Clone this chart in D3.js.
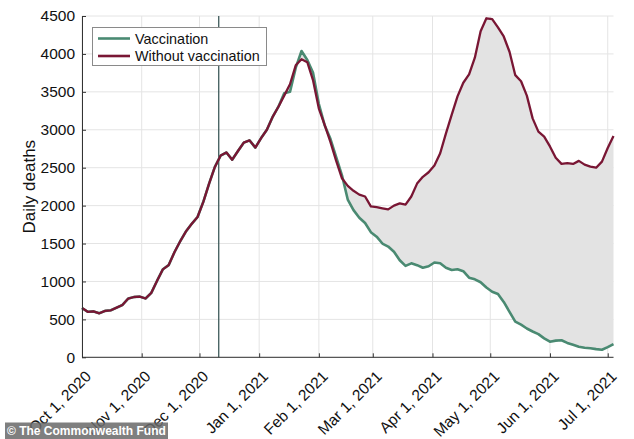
<!DOCTYPE html>
<html>
<head>
<meta charset="utf-8">
<script src="https://cdn.jsdelivr.net/npm/d3@7"></script>
<style>
  html, body { margin: 0; padding: 0; background: #fff; }
  svg { display: block; font-family: "Liberation Sans", Arial, Helvetica, sans-serif; }
</style>
</head>
<body>
<svg id="chart" width="634" height="439"></svg>
<script>
// ---- Data ----
const dates = [
  "2020-10-01","2020-10-04","2020-10-07","2020-10-10","2020-10-13","2020-10-16","2020-10-19","2020-10-22","2020-10-25","2020-10-28",
  "2020-10-31","2020-11-03","2020-11-06","2020-11-09","2020-11-12","2020-11-15","2020-11-18","2020-11-21","2020-11-24","2020-11-27",
  "2020-11-30","2020-12-03","2020-12-06","2020-12-09","2020-12-12","2020-12-15","2020-12-18","2020-12-21","2020-12-24","2020-12-27",
  "2020-12-30","2021-01-02","2021-01-05","2021-01-08","2021-01-11","2021-01-14","2021-01-17","2021-01-20","2021-01-23","2021-01-26",
  "2021-01-29","2021-02-01","2021-02-04","2021-02-07","2021-02-10","2021-02-13","2021-02-16","2021-02-19","2021-02-22","2021-02-25",
  "2021-02-28","2021-03-03","2021-03-06","2021-03-09","2021-03-12","2021-03-15","2021-03-18","2021-03-21","2021-03-24","2021-03-27",
  "2021-03-30","2021-04-02","2021-04-05","2021-04-08","2021-04-11","2021-04-14","2021-04-17","2021-04-20","2021-04-23","2021-04-26",
  "2021-04-29","2021-05-02","2021-05-05","2021-05-08","2021-05-11","2021-05-14","2021-05-17","2021-05-20","2021-05-23","2021-05-26",
  "2021-05-29","2021-06-01","2021-06-04","2021-06-07","2021-06-10","2021-06-13","2021-06-16","2021-06-19","2021-06-22","2021-06-25",
  "2021-06-28","2021-07-01","2021-07-04"
];

const withoutVaccination = [
  650, 600, 605, 580, 612, 620, 655, 690, 775, 795,
  800, 775, 850, 1010, 1160, 1215, 1385, 1530, 1660, 1760,
  1850, 2050, 2290, 2510, 2660, 2700, 2605, 2720, 2830, 2860,
  2765, 2890, 3000, 3170, 3304, 3450, 3600, 3850, 3930, 3890,
  3650, 3280, 3063, 2840, 2590, 2360, 2260, 2195, 2145, 2120,
  1990, 1980, 1965, 1950, 2000, 2030, 2012, 2120, 2290, 2380,
  2440, 2530, 2690, 2953, 3200, 3440, 3620, 3730, 3950, 4300,
  4470, 4460, 4350, 4230, 4029, 3720, 3640, 3450, 3150, 2975,
  2910, 2780, 2630, 2550, 2560, 2550, 2590, 2540, 2515, 2500,
  2580, 2760, 2918
];

const vaccination = [
  650, 600, 605, 580, 612, 620, 655, 690, 775, 795,
  800, 775, 850, 1010, 1160, 1215, 1385, 1530, 1660, 1760,
  1850, 2050, 2290, 2510, 2660, 2700, 2605, 2720, 2830, 2860,
  2765, 2890, 3000, 3170, 3304, 3480, 3500, 3820, 4038, 3920,
  3750, 3340, 3060, 2880, 2640, 2400, 2080, 1940, 1840, 1770,
  1650, 1590, 1500, 1460, 1392, 1280, 1205, 1239, 1215, 1180,
  1200, 1250, 1240, 1180, 1151, 1160, 1135, 1050, 1028, 990,
  920, 865, 835, 730, 600, 470, 430, 380, 340, 305,
  250, 206, 220, 225, 190, 165, 140, 125, 119, 108,
  100, 135, 175
];

const xTickLabels = ["2020-10-01","2020-11-01","2020-12-01","2021-01-01","2021-02-01","2021-03-01","2021-04-01","2021-05-01","2021-06-01","2021-07-01"];
const yTickValues = [0, 500, 1000, 1500, 2000, 2500, 3000, 3500, 4000, 4500];
const seriesNames = ["Vaccination", "Without vaccination"];
const vaccineStart = "2020-12-11";
const credit = "© The Commonwealth Fund";

// ---- Chart ----
const parse = d3.utcParse("%Y-%m-%d");
const fmt = d3.utcFormat("%b %-d, %Y");
const rows = dates.map((d, i) => ({ date: parse(d), vac: vaccination[i], nov: withoutVaccination[i] }));

const colVac = "#4a8a72";
const colNov = "#791634";

const svg = d3.select("#chart");
const plot = { left: 82, right: 613.5, top: 16, bottom: 357.3 };

const x = d3.scaleUtc()
  .domain([parse("2020-10-01"), parse("2021-07-04")])
  .range([plot.left, plot.right]);
const y = d3.scaleLinear()
  .domain([0, 4500])
  .range([plot.bottom, plot.top]);

const xTicks = xTickLabels.map(parse);

// grid
const grid = svg.append("g");
grid.selectAll("line.h").data(yTickValues).join("line")
  .attr("x1", plot.left).attr("x2", plot.right)
  .attr("y1", d => y(d)).attr("y2", d => y(d))
  .attr("stroke", "#e4e4e4").attr("stroke-width", 1);
grid.selectAll("line.v").data(xTicks).join("line")
  .attr("x1", d => x(d)).attr("x2", d => x(d))
  .attr("y1", plot.top).attr("y2", plot.bottom)
  .attr("stroke", "#e4e4e4").attr("stroke-width", 1);

// fill between
const area = d3.area()
  .x(d => x(d.date))
  .y0(d => y(d.vac))
  .y1(d => y(d.nov));
svg.append("path").datum(rows)
  .attr("d", area)
  .attr("fill", "#e3e3e3");

// vertical marker
svg.append("line")
  .attr("x1", x(parse(vaccineStart))).attr("x2", x(parse(vaccineStart)))
  .attr("y1", plot.top).attr("y2", plot.bottom)
  .attr("stroke", "#3e5a5a").attr("stroke-width", 1.3);

// lines
const lineVac = d3.line().x(d => x(d.date)).y(d => y(d.vac));
const lineNov = d3.line().x(d => x(d.date)).y(d => y(d.nov));
svg.append("path").datum(rows).attr("d", lineVac)
  .attr("fill", "none").attr("stroke", colVac).attr("stroke-width", 2.6)
  .attr("stroke-linejoin", "round");
svg.append("path").datum(rows).attr("d", lineNov)
  .attr("fill", "none").attr("stroke", colNov).attr("stroke-width", 2.3)
  .attr("stroke-linejoin", "round");

// axes
const xAxis = d3.axisBottom(x).tickValues(xTicks).tickSizeInner(-4).tickSizeOuter(0).tickFormat("");
const gx = svg.append("g").attr("transform", `translate(0,${plot.bottom})`).call(xAxis);
gx.select(".domain").attr("stroke", "#333").attr("d", `M${plot.left},0H${plot.right}`);
gx.selectAll(".tick line").attr("stroke", "#333");

const yAxis = d3.axisLeft(y).tickValues(yTickValues).tickSizeInner(-4).tickSizeOuter(0)
  .tickPadding(7).tickFormat(d3.format("d"));
const gy = svg.append("g").attr("transform", `translate(${plot.left},0)`).call(yAxis);
gy.select(".domain").attr("stroke", "#333");
gy.selectAll(".tick line").attr("stroke", "#333");
gy.selectAll(".tick text")
  .attr("font-size", "15.5px").attr("fill", "#111")
  .attr("font-family", "Liberation Sans, Arial, sans-serif");

// rotated x tick labels
svg.append("g").selectAll("text").data(xTicks).join("text")
  .attr("transform", d => `translate(${x(d) + 10},${plot.bottom + 20}) rotate(-45)`)
  .attr("text-anchor", "end")
  .attr("font-size", "15.5px")
  .attr("fill", "#111")
  .text(d => fmt(d));

// y axis label
svg.append("text")
  .attr("transform", `translate(35,${(plot.top + plot.bottom) / 2}) rotate(-90)`)
  .attr("text-anchor", "middle")
  .attr("font-size", "17px")
  .attr("fill", "#111")
  .text("Daily deaths");

// legend
const lg = svg.append("g");
lg.append("rect")
  .attr("x", 92.5).attr("y", 27.5).attr("width", 174).attr("height", 38)
  .attr("fill", "#fff").attr("stroke", "#8a8a8a").attr("stroke-width", 1);
[colVac, colNov].forEach((c, i) => {
  const yy = 38.5 + i * 17.5;
  lg.append("line").attr("x1", 98).attr("x2", 130).attr("y1", yy).attr("y2", yy)
    .attr("stroke", c).attr("stroke-width", 2.6);
  lg.append("text").attr("x", 135).attr("y", yy + 5)
    .attr("font-size", "14.4px").attr("fill", "#111")
    .text(seriesNames[i]);
});

// credit
const cg = svg.append("g");
cg.append("rect").attr("x", 5).attr("y", 422.5).attr("width", 163).attr("height", 17)
  .attr("fill", "rgba(105,105,105,0.85)");
cg.append("text").attr("x", 7).attr("y", 435)
  .attr("font-size", "12px").attr("font-weight", "bold").attr("fill", "#fff")
  .text(credit);
</script>
</body>
</html>
